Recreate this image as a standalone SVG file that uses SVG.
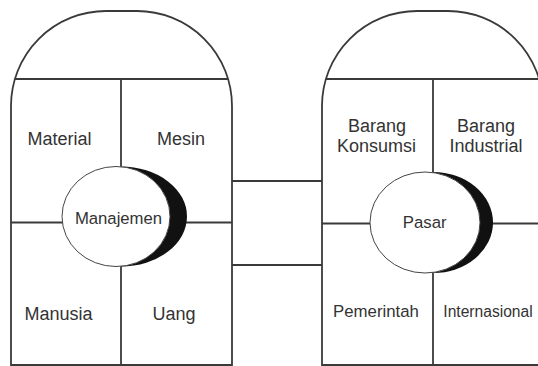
<svg xmlns="http://www.w3.org/2000/svg" width="538" height="366" viewBox="0 0 538 366">
<style>
.ln{fill:none;stroke:#3a3a3a;stroke-width:1.8}
.sh{fill:#fff;stroke:#3a3a3a;stroke-width:1.8}
.el{fill:#fff;stroke:#444;stroke-width:1}
.cr{fill:#111}
.t{font-family:"Liberation Sans",Arial,sans-serif;fill:#333;text-anchor:middle;font-size:18px}
</style>
<rect width="538" height="366" fill="#fff"/>
<g id="connectors">
<path class="ln" d="M232,181 H322 M232,265 H322"/>
</g>
<g id="left-unit">
<path class="sh" d="M11,365 V106 A95,95 0 0 1 106,11 H137 A95,95 0 0 1 232,106 V365 Z"/>
<path class="ln" d="M14.9,79 H228.1 M121,79 V365 M11,222.5 H232"/>
</g>
<g id="right-unit">
<path class="sh" d="M322,365 V106 A95,95 0 0 1 417,11 H448 A95,95 0 0 1 543,106 V365 Z"/>
<path class="ln" d="M325.9,79 H539.1 M433,79 V365 M322,223.5 H543"/>
</g>
<g id="manajemen">
<path class="cr" d="M121,166.5 A66,50 0 0 1 121,266.5 Z"/>
<ellipse class="el" cx="116" cy="216.5" rx="54" ry="50"/>
<text class="t" x="118.5" y="224" style="font-size:16.7px">Manajemen</text>
</g>
<g id="pasar">
<path class="cr" d="M433,172 A60,50.5 0 0 1 433,273 Z"/>
<ellipse class="el" cx="425" cy="222.5" rx="55" ry="50.5"/>
<text class="t" x="424.7" y="228.3" style="font-size:16.8px">Pasar</text>
</g>
<g id="material"><text class="t" x="59.5" y="145">Material</text></g>
<g id="mesin"><text class="t" x="181" y="145">Mesin</text></g>
<g id="manusia"><text class="t" x="58.5" y="320">Manusia</text></g>
<g id="uang"><text class="t" x="174" y="320">Uang</text></g>
<g id="barang-konsumsi"><text class="t" x="377" y="132">Barang</text><text class="t" x="376.5" y="152">Konsumsi</text></g>
<g id="barang-industrial"><text class="t" x="486" y="132">Barang</text><text class="t" x="486" y="152">Industrial</text></g>
<g id="pemerintah"><text class="t" x="376" y="317" style="font-size:16.8px">Pemerintah</text></g>
<g id="internasional"><text class="t" x="488" y="317" style="font-size:15.6px">Internasional</text></g>
</svg>
